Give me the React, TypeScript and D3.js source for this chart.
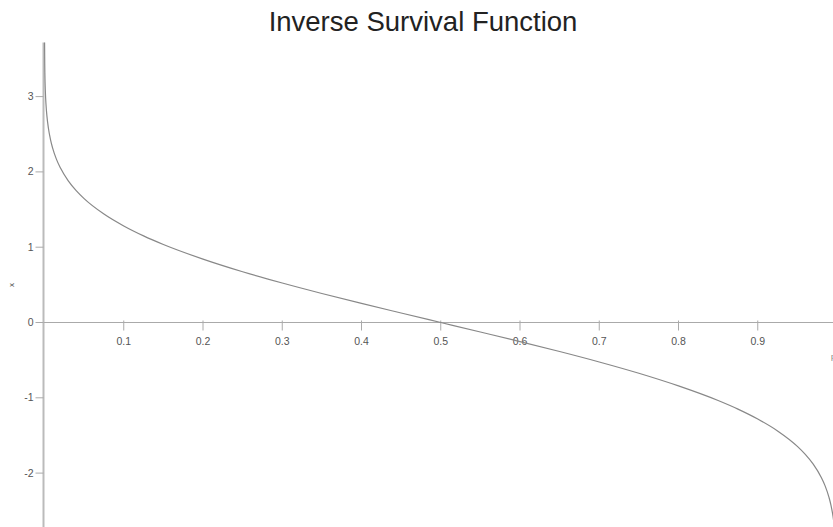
import React from "react";
import * as d3 from "d3";

const W = 833;
const H = 527;

const probs = [0.0001, 0.0003, 0.0005, 0.001, 0.002, 0.003, 0.005, 0.0075, 0.01, 0.015, 0.02, 0.03, 0.04, 0.05, 0.075, 0.1, 0.125, 0.15, 0.2, 0.25, 0.3, 0.35, 0.4, 0.45, 0.5, 0.55, 0.6, 0.65, 0.7, 0.75, 0.8, 0.85, 0.875, 0.9, 0.925, 0.95, 0.96, 0.97, 0.98, 0.985, 0.99, 0.9925, 0.995, 0.997, 0.998, 0.999, 0.9995, 0.9997, 0.9999];
const values = [3.719, 3.432, 3.291, 3.09, 2.878, 2.748, 2.576, 2.432, 2.326, 2.17, 2.054, 1.881, 1.751, 1.645, 1.44, 1.282, 1.15, 1.036, 0.842, 0.674, 0.524, 0.385, 0.253, 0.126, 0, -0.126, -0.253, -0.385, -0.524, -0.674, -0.842, -1.036, -1.15, -1.282, -1.44, -1.645, -1.751, -1.881, -2.054, -2.17, -2.326, -2.432, -2.576, -2.748, -2.878, -3.09, -3.291, -3.432, -3.719];
const xTicks = [0.1, 0.2, 0.3, 0.4, 0.5, 0.6, 0.7, 0.8, 0.9];
const yTicks = [-2, -1, 0, 1, 2, 3];
const title = "Inverse Survival Function";

export default function App() {
  const x = d3.scaleLinear().domain([0, 1]).range([44.5, 837]);
  const y = d3.scaleLinear().domain([0, 3]).range([322.5, 96.6]);
  const pts: [number, number][] = probs.map((p, i) => [p, values[i]]);
  const line = d3
    .line<[number, number]>()
    .x((d) => x(d[0]))
    .y((d) => y(d[1]))
    .curve(d3.curveMonotoneX);
  const x0 = x(0);
  const y0 = y(0);
  return (
    <svg
      width={W}
      height={H}
      style={{ position: "absolute", left: 0, top: 0, background: "#fff" }}
      fontFamily="Liberation Sans, Arial, sans-serif"
    >
      <rect x={0} y={0} width={W} height={H} fill="#fff" />
      <text x={423} y={31} textAnchor="middle" fontSize={27.5} fill="#222">
        {title}
      </text>
      {/* y axis */}
      <line x1={x0 - 1} x2={x0 - 1} y1={y(3.72)} y2={H} stroke="#bbb" strokeWidth={2} />
      {yTicks.map((t) => (
        <g key={t}>
          <line x1={x0 - 9} x2={x0 - 1} y1={y(t)} y2={y(t)} stroke="#aaa" strokeWidth={1} />
          <text x={x0 - 11} y={y(t) + 3.5} textAnchor="end" fontSize={10.5} fill="#555">
            {t}
          </text>
        </g>
      ))}
      <text x={14} y={285} fontSize={8} fill="#555" textAnchor="middle" transform="rotate(-90 14 285)">
        x
      </text>
      {/* x axis */}
      <line x1={x0 - 1} x2={W} y1={y0} y2={y0} stroke="#aaa" strokeWidth={1} />
      {xTicks.map((t) => (
        <g key={t}>
          <line x1={x(t)} x2={x(t)} y1={y0 - 2} y2={y0 + 8} stroke="#aaa" strokeWidth={1} />
          <text x={x(t)} y={345} textAnchor="middle" fontSize={10.5} fill="#555">
            {t}
          </text>
        </g>
      ))}
      <text x={831} y={359} fontSize={8} fill="#777">
        p
      </text>
      <path d={line(pts) || ""} fill="none" stroke="#888" strokeWidth={1.2} />
    </svg>
  );
}
